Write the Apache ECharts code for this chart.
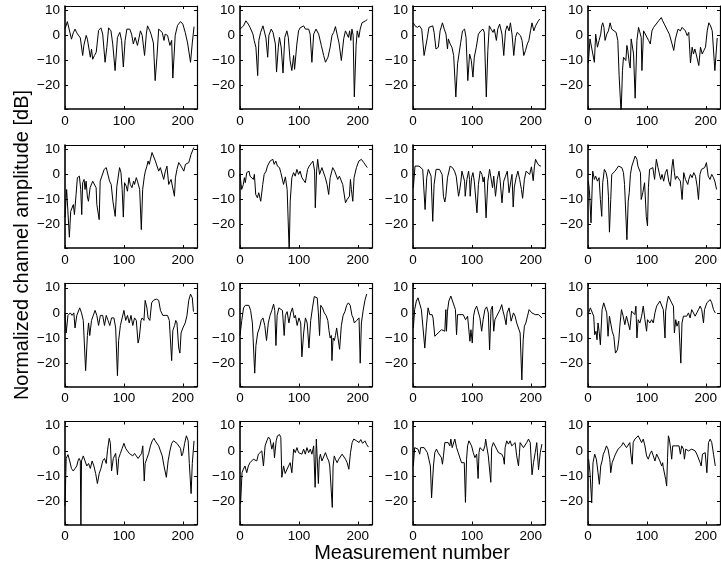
<!DOCTYPE html>
<html><head><meta charset="utf-8">
<script src="https://cdn.jsdelivr.net/npm/echarts@6/dist/echarts.min.js"></script>
<style>html,body{margin:0;padding:0;background:#fff}#c{width:721px;height:574px}</style>
</head><body><div id="c"></div>
<script>
const xTitle = 'Measurement number';
const yTitle = 'Normalized channel amplitude [dB]';
const xMin = 0, xMax = 224, xStep = 100;
const yMin = -29.3, yMax = 11.7, yStep = 10;

const p11 = [[0,2.5],[4,5.5],[7,5],[11,-1.5],[14,1],[17,2.5],[20,1],[23,0.5],[26,-1],[30,-8],[32,-4],[36,0],[38,-1.5],[43,-8.7],[45,-5.5],[47,-9.5],[50,-8],[53,-6.7],[57,2],[61,3],[64,0.5],[68,-10.7],[71,-4.7],[74,3],[78,1.8],[81,-3.4],[85,-14],[89,-0.8],[93,1.2],[96,-2],[99,-12.6],[102,-2],[105,2.5],[110,2.5],[113,0.5],[116,-3.4],[119,-0.8],[123,-4],[128,1.8],[131,0],[135,-8],[138,0.5],[140,3.8],[144,1.8],[146,0.5],[150,-3],[153,-18],[156,-8.7],[159,2.5],[162,2.5],[165,1.2],[168,-2],[170,0.5],[174,0],[178,-4],[181,-2],[183,-17],[187,0],[191,4],[196,5.5],[200,4.5],[204,1.2],[208,-3],[213,-10.7],[216,-3],[219,3.5]];
const p12 = [[0,2.5],[3,1.8],[6,3.8],[10,5.8],[14,4.5],[17,3.2],[22,0.5],[24,-2],[27,-4.7],[30,-16],[32,-2],[35,1.2],[39,3.8],[41,3.2],[44,-1],[47,-8.7],[49,0],[53,2.5],[56,1.2],[60,-3.4],[62,-14.6],[65,-4.7],[67,-0.8],[70,-5],[73,-15],[76,-0.8],[79.5,1.8],[82,-0.8],[85,-10],[88,-14],[91,-8],[92.6,-13.5],[96.5,-3.4],[99.4,1.8],[102,3],[108,3.8],[111,2.5],[113.5,1.8],[116.5,2.5],[119,0.5],[122,-10.7],[125,0.5],[129,2.5],[133.5,0.5],[138,-4],[142,-8],[145,-10.7],[149.3,-8.7],[153,-4.7],[156,-0.1],[159,1.2],[162,3.5],[164.7,0.5],[168,-3],[172,-10],[176,-1.3],[179,1.8],[182,2.5],[184,-0.8],[186,1.8],[188,-2],[190,2.5],[192,0],[194,-24.5],[197,-4],[199,1.8],[201.6,-0.8],[204,2.5],[207,5],[210,5.5],[213,5.8],[216,6.3]];
const p13 = [[0.6,5],[3.4,3.8],[7.4,3.2],[10.8,3.8],[14.8,2.5],[18.8,-8],[22,-8.7],[24.4,-0.8],[27,3.2],[30,2.5],[33.5,3.8],[35.8,1.2],[39,-5.4],[43,-4.7],[46,1.8],[50,5],[53,2.5],[56,0.5],[58.5,-5.4],[60,-1.4],[63,-3.4],[66,-4.7],[69,-8],[72.7,-24.5],[75.6,-11.3],[78.4,-10.7],[81,-2.8],[84,1.8],[87.5,2.5],[90,-0.8],[93,-18],[96,-7.4],[99,-10],[101.7,-16.6],[104,-8.7],[107.4,-4.7],[111,0.5],[115,1.8],[118.8,2.5],[121,1.2],[124.4,-24.5],[127,-6],[129.5,3.8],[132.4,2.5],[135.8,1.2],[138,2.5],[141.5,-2],[143.8,2.5],[147,4.5],[149.4,4],[151,0.5],[154,-8],[157,1.8],[159.7,3.8],[163,1.8],[165.3,5],[168,0.5],[171,-8],[174,-0.8],[176.7,1.2],[179.5,1.8],[182.4,-0.1],[185,-2],[188,-8],[191,-6],[194,-3.4],[196.6,-2],[199.4,1.8],[202,5],[205,1.8],[208,3.8],[212,5.5],[215,6.5]];
const p14 = [[0.6,-11],[3.4,-1.4],[6.2,-2],[10.8,-10.7],[13,0.5],[16,-4.7],[18.8,-2],[21.6,0.5],[23.3,3.8],[25,5],[27,3.2],[29,-2],[31.8,0.5],[34.7,1.8],[37.5,5],[40.3,2.5],[44.3,1.8],[47.7,1.2],[50.6,-2],[52.8,-16],[56.2,-31],[58.5,-14],[60.2,-8.7],[64.2,-10],[66,-4],[67.6,-6],[70,-11],[71.6,-13],[73.3,-1.4],[75.6,-1.4],[77.3,-7.4],[80,-25],[83,-2],[85.8,3.2],[88.6,2.5],[90.3,-0.8],[91.5,-14],[94.3,1.8],[97,2.5],[102.8,-2],[105.7,-3.4],[108.5,1.8],[111.4,3.2],[114.2,3.8],[119.9,5.8],[124.4,7.1],[126.7,5.8],[129.5,4.5],[132.4,3.8],[135.2,1.8],[138,0.5],[142.6,-3.4],[145.5,-6],[148.3,-1.4],[152.8,2.5],[156.8,1.8],[159.7,3.2],[162.5,2.5],[165.3,1.8],[168.2,-0.1],[171,1.2],[173.9,-11],[176.7,-4.7],[179,-7.4],[181.3,-5.4],[183.5,-7.4],[188,-12],[190.9,-4.7],[193.8,-7.4],[196.6,-6],[199.4,-4.7],[202.3,1.8],[205,5],[208,3.8],[210.8,1.8],[215.3,-14],[219.3,-1]];
const p21 = [[0,-17],[2.8,-6],[7.4,-25],[9.7,-14.7],[12.5,-15.3],[14.2,-12],[16,-16],[18.8,-8],[21,-1.3],[24.4,-0.7],[26.7,-6],[28.4,-16],[30,-3.3],[32.4,-2],[34,-6],[35.8,-2.7],[38,-9],[39.8,-10.7],[42.6,-5.3],[47,-2.7],[50,-2.7],[52.8,-5.3],[54,-12],[58,-18],[59.7,-2.7],[62.5,-2],[66.5,2],[70,2.7],[72,2],[75.6,-2.7],[78.4,-4],[81.3,-10.7],[85.2,-16.7],[88,-4.7],[92.6,2.7],[95,0.7],[97,-6],[99,-17],[101,-3.3],[104,-4.7],[106,-6.7],[108.5,-1.3],[110.8,-4],[113.6,-5.3],[116.5,-2.7],[118,-4],[121,-1.3],[123,-2.7],[126.7,-6],[129.5,-22],[131.8,-6],[134.7,-0.7],[136.4,1.3],[139,3.3],[141,5.3],[143,4],[145,6],[147.7,8.7],[150.6,8],[153.4,5.3],[156,4.7],[159,1.3],[161.8,2.7],[164.7,2],[167.5,-2],[170,1],[173,3.3],[176,-4],[180,-2],[185.7,-8.7],[187.4,-1.3],[190,2],[193,4.7],[197,3.3],[201.6,1.3],[204.4,4],[207.3,3.3],[210,4.7],[214,8],[218.6,10.7]];
const p22 = [[0,0],[2.8,-6],[5.7,-4],[7.4,-1.3],[9,-3.3],[11.4,0.7],[13,0],[15.3,1.3],[17,-0.7],[20,0],[22.7,-2],[24.4,0],[26.7,-8],[29.5,-9.3],[31.8,-7.3],[35.2,-10.7],[38.6,-4],[41,0],[44.3,1.3],[46.6,3.3],[51,5.3],[55.7,6],[58,4],[60.8,5.3],[63.6,3.3],[67,2.7],[69.3,0.7],[73.9,-4],[77,-1],[80,-6],[83.5,-31],[85.2,-10.7],[88,-1.3],[90.9,0.7],[93.7,-0.7],[96.5,2],[99.4,0],[102,1.3],[105,-1.3],[108,-1.3],[110.8,-3.3],[114.7,2],[117.5,3.3],[120.4,2.7],[123.8,5.3],[126.6,1.3],[127.8,-13.3],[130,1.3],[131.8,6],[135,0],[139,2.7],[142,2.7],[144.8,-1.3],[147.7,-4],[150.5,-8],[153,-1.3],[157.3,2.7],[160.7,1.3],[163,1.3],[165.8,-2],[168.7,-0.7],[171.5,-1.3],[174.3,-4],[179,-11.3],[181.7,-10],[185.7,-8.7],[187.4,-2],[189,-6],[191.4,-10.7],[193.6,-1.3],[197.6,2.7],[201.6,5.3],[206,6],[210,4.7],[216,2.7]];
const p23 = [[0.6,-5.3],[3.4,3.3],[6.3,2.7],[10.2,3.3],[13,4],[16.5,2],[18.8,1.3],[20.5,-14],[23.3,-1.3],[26,2],[29,2.7],[30.7,-0.7],[33.5,-18.7],[35.8,-4],[39.2,2],[41.5,2.7],[44.9,2],[47,2.7],[49.4,0],[51.7,-8.7],[54,-11],[55.7,-8.7],[58.5,-1.3],[63,3.3],[67,2.7],[70.5,1.3],[73.3,-0.7],[77.3,-8.7],[79,-6.7],[81.3,-2.7],[83,1.3],[85.8,0.7],[87.5,-2.7],[88.6,-8.7],[91.5,-2],[94.3,1.3],[96,-2],[97,-8.7],[99.4,-1.3],[101.7,0.7],[104,-2.7],[108.5,-15.3],[111,-4],[114,1.3],[117,0],[119,-3],[121,-1],[124,-17.3],[127,-2.7],[130,2],[132,1.3],[135,-5.3],[137,-0.7],[140,-8.7],[143,-2],[146,1.3],[148,-2.7],[151,-11.3],[154,-2.7],[157,-0.7],[160,1.3],[163,-7.3],[166,-2.7],[168,0],[170,-13],[172,-5],[175,-1.3],[178,1.3],[181,-2],[184,-6],[186,-9.5],[189,-2],[192,1.3],[195,2],[198,0],[201,3],[204,-2.5],[206,3],[208,6],[211,4.5],[214,3.5],[217,3.3]];
const p24 = [[0.6,-2.7],[2.3,-6],[5.1,-19.3],[8,1.3],[10.8,-2],[13,-0.7],[16,-2.7],[18.8,-1.3],[21,-10],[23.3,-16.7],[25,-3.3],[27.8,2],[30.7,0.7],[33,-2],[34.7,-8.7],[36.4,-23],[38.6,-10],[40.3,0],[43.2,0.7],[46,1.3],[48.9,2],[51.7,3.3],[54.5,4],[57.4,2.7],[60.2,0.7],[62,-4],[66,-26],[68.2,-10.7],[70,-7.3],[72,0],[74.4,3.3],[77.3,3.3],[80,7.3],[83,6],[84.7,3.3],[87,4],[89,0.7],[90.3,-10],[93,-7.3],[96,-3.3],[98.9,-16.7],[101,-20.5],[102.5,-5.3],[104.5,2],[107.4,1.3],[110,2.7],[113,-2],[116,6],[118.8,2.7],[121.6,2],[123.3,-2],[125.6,0],[128.4,-2.7],[131.3,0.7],[134,2],[137,-2.7],[139.8,-4.7],[142.6,3.3],[144.3,6],[146.6,0.7],[148.3,-2],[151,-0.7],[154,0],[156.8,-2.7],[159.7,-10],[162.5,0.7],[165.3,-2],[169.3,-4],[171,-2],[173.9,0],[176.7,-1.3],[179.5,0.7],[182.4,-0.7],[185.2,-4.7],[187.5,-10],[190,0],[192.5,2],[195,2.7],[198,2.7],[201,4.7],[204,-0.7],[207,-2],[210,0],[213,-1.3],[215.5,-3],[218.2,-6]];
const p31 = [[0,0],[2,-8],[5,-1],[9,0],[12,-1],[15,0],[17,-6],[20,-1],[25,2],[28,0],[31,-3],[35,-23],[38,-9],[40,-4],[42,-9],[45,-3],[48,-1],[51,1],[54,-1],[57,-5],[60,-1],[64,-1],[67,-5],[70,-1],[73,-3],[76,-5],[79,-2],[83,-2],[86,-6],[89,-25],[91,-11],[94,-5],[97,-2],[100,1],[103,-3],[106,-1],[109,-4],[112,-1],[115,-5],[118,-2],[121,-3],[124,-12],[126,-10],[129,-3],[131,-2],[134,-3],[136,5],[139,2],[141,-2],[144,-3],[147,4],[150,5],[155,5.5],[159,5],[162,1],[166,-1],[170,-1],[174,-1],[177,-3],[181,-19],[183,-7],[186,-5],[188,-3],[190,-4],[193,-14],[195,-16],[197,-8],[200,-6],[204,-4],[207,-1],[210,5],[213,7.5],[216,6],[218,0.5]];
const p32 = [[0,-9],[3,-3],[6,2],[9,3],[12,2.5],[15,3],[18,1],[21,-4],[25,-24],[27,-13],[30,-8],[33,-6],[36,-3],[39,-2],[42,-5],[45,-11],[48,-4],[51,-1],[54,1],[57,3.5],[59,1],[61,-13],[63,-1],[66,2],[69,1.5],[72,1],[75,-9],[77,-1],[80,0.5],[83,-4],[86,0],[89,2],[92,-2],[94,-1],[97,-5],[100,-2],[103,-4],[105,-17.5],[108,-8],[111,-2],[114,-4],[117,-14],[120,-3],[123,2],[126,6.5],[129,7],[131,6],[133,0],[135,-9],[137,3],[140,2],[143,0],[146,-1],[149,-3],[151,-7],[153,-10],[155,-9],[156,-19],[158,-10],[160,-11],[162,-9],[164,-6],[166,-6],[169,-14.5],[172,-5],[175,-1],[178,0.5],[181,3],[184,4],[187,3],[190,-1],[192,-2],[194,-4],[198,-3],[202,-2],[204,-20],[206,-4],[209,1],[212,5],[215,7.5]];
const p33 = [[0.6,-6],[2.8,1.3],[5.7,4.7],[8.5,6],[11.4,5.3],[14.2,1.3],[17,-6],[20,-14],[22.7,-5.3],[25.6,2],[28.4,-0.7],[30,-1.3],[32.4,-0.7],[34,-2],[37,-9.3],[39.8,-8.7],[42.6,-8],[45.5,-7.3],[48.3,-6.7],[51,-7.3],[54,-7.3],[55.7,1.3],[56.8,-7.3],[58.5,0.7],[60.8,4.7],[64.2,6.7],[66.5,6.4],[70,2.7],[72,1.3],[73.9,-8.7],[75.6,-0.7],[79.5,-0.7],[82.4,-1.3],[85.2,-0.7],[89.2,-2.7],[92.6,-1.3],[96.6,-11.3],[98.3,-6.7],[100.6,-12],[102.8,-1.3],[105,1.3],[108,2.7],[110.8,2],[113.6,-2],[116.5,-7.3],[119,-2.7],[122,1.3],[125,2.4],[127.8,0],[130,-14.7],[132.4,1.3],[134.7,2.7],[137,-7.3],[139,-2.7],[142,-1.3],[145,-0.7],[147.7,1.3],[150.6,3.3],[152.8,0.7],[155,-1.3],[158,-4.7],[159.7,0],[163,2],[165.3,-1.3],[166.5,-3.3],[170.5,0],[173.3,-1.3],[176,-4],[181.8,-8],[184.7,-26.7],[187,-10.7],[189,-5.3],[191.5,-4],[194.3,-1.3],[197,1.3],[198.9,0.7],[201.7,0],[204.5,0.7],[207.4,-0.7],[210,0],[213,-0.7],[216,-1.3],[218.8,-2]];
const p34 = [[1.1,0],[4,2],[6.8,2.7],[9.7,-1.3],[11.4,-8.7],[13.6,-7.3],[15.3,-10.7],[17,-4],[18.8,-7.3],[21,-12.7],[23.9,1.3],[26.7,4],[29.5,3.3],[31.8,0],[34,-9.3],[36.4,-1.3],[38.6,-0.7],[41,-7.3],[43.8,-9.3],[46.6,-16],[48.3,-16.7],[50,-14.7],[52.3,-10.7],[54,-5.3],[56.8,1.3],[59.7,-1.3],[62.5,-4.7],[65.3,-1.3],[68.2,-0.7],[71,-6.7],[73.9,0.7],[76.7,1.3],[79.5,-0.7],[81.3,2.7],[83,-10],[85.2,-2.7],[88,-4],[91,-1.3],[93.8,2.7],[96.6,-2.7],[99.4,-7.3],[101,-2.7],[105,-4],[108,-2.7],[110.8,-4],[113.6,0],[116.5,2.7],[119.3,3.3],[122,4.7],[125,5.3],[127.8,1.3],[130.7,-10],[131.8,0.7],[134,4],[136.4,6.7],[139,6],[142,4],[145,2.7],[146.6,-8],[148.9,-2.7],[151,-5.3],[154,-3.3],[157.5,-20],[159.5,-4],[162,-1.3],[164.8,-0.7],[167.6,-1.3],[170.5,0],[173.3,-2],[176,1.3],[179,0],[181.8,-1.3],[184.7,0],[187.5,1.3],[190.3,2.7],[193,1.3],[196,-4],[197.7,1.3],[201.7,4],[207.4,5.3],[210,4],[213,1.3],[216,0]];
const p41 = [[0,-22],[2,-3],[5,-1.5],[8,-4],[11,-7],[14,-8],[17,-7],[20,-6],[22,-4],[24,-3],[26,-4],[27,-31],[28,-4],[31,-2],[34,-4],[37,-6],[40,-5],[43,-7],[46,-4],[49,-6],[52,-9],[55,-13],[58,-9],[61,-7],[64,-4],[67,-3],[70,-5],[72,0],[75,5],[77,3],[79,-8],[82,-3],[86,-1],[89,-9.5],[91,-3],[94,-1],[97,1],[100,3],[103,1],[106,0],[109,-1],[112,-1],[115,-2],[118,-1],[121,-2],[124,-3],[127,-2],[130,-1],[132,2],[134.5,-12],[136,-5],[139,-3],[142,-1],[145,2],[148,4],[151,5],[153,4],[156,4.5],[159,2],[162,0],[165,-2],[168,-6],[172,-10.5],[175,-4],[178,0],[181,3],[184,4],[187,3.5],[190,3],[193,3],[196,1],[198,-2],[200,-1],[203,3],[206,6],[209,4],[211,-5],[214,-17],[216,-5],[219,4]];
const p42 = [[1,-21],[3.4,-8.7],[5.7,-7.3],[8.5,-6],[11.4,-8.7],[14.2,-6],[17,-4.7],[19.9,-5.3],[22.7,-3.3],[25.6,-2.7],[28.4,-4],[31.3,-1.3],[34,-1.3],[37,0],[39.8,-6],[42.6,2],[45.5,4],[48.3,5.5],[51,4.7],[54,0.7],[56.8,3.3],[58.5,-2.7],[61.4,4],[63.6,6],[67,6.5],[69.3,5.3],[71,-10.5],[73.9,-6],[76.7,-9],[79.5,-8.7],[82.4,-6],[85.2,-4.7],[88,-8.7],[91,0.7],[93.8,-0.7],[96.6,1.3],[99.4,-0.7],[102.3,0],[105,-1.3],[108,0.7],[110.8,-1.3],[113.6,1.3],[116.5,-0.7],[119.3,0.7],[122,-1.3],[125,2],[127.5,-14.5],[129.5,4.7],[133,-13],[134.5,-3.3],[136.4,-1.3],[139,-4],[142,-4.7],[145,-0.7],[148,-2.7],[150.6,-4],[152.3,-6],[156.6,-22.5],[158,-6],[160,-2],[162,-3.3],[164.8,-4.7],[167.6,-3.3],[170.5,-4],[173.3,-1.3],[176,-0.7],[179,-3.3],[181.8,-4.7],[184.7,-7.3],[187.5,-0.7],[190.3,3.3],[193,4.7],[198,4],[202,3.3],[205,4.5],[208,3],[212,4],[215,2.5],[218,1.5]];
const p43 = [[0.6,-6],[2.8,1.3],[5.7,2],[8.5,0.7],[11.4,-1.3],[13,1.3],[16,0.7],[18.8,1.3],[21.6,0.7],[24.4,-0.7],[26.7,-1.3],[29.5,-6],[31.5,-18.7],[34.7,-6],[37,-0.7],[39.8,0.7],[42.6,-0.7],[45.5,-1.3],[48.3,-2.7],[50,-5.3],[51.7,-2],[54,3.3],[56.8,4],[59.7,3.3],[62.5,2],[64.2,4.7],[66.5,1.3],[68.2,2],[71,4.7],[73.9,1.3],[76.7,-0.7],[79.5,-1.3],[82.4,-4.7],[85.2,-5.3],[87,-4.7],[89,-20.5],[90.9,-3.3],[92.6,2],[94.9,4],[97,4.7],[99.4,2],[102.3,-0.7],[105,-2.7],[108,-1.3],[110.5,-11],[112,-0.7],[113.6,1.3],[116.5,2],[119.3,0],[122,2],[123.3,4.7],[125,2],[127.8,-2],[132,-12.5],[133.5,1.3],[134.7,2],[136.4,3.3],[139.2,2.7],[142,0.7],[145,-0.7],[147.7,0],[150.6,-1.3],[153.4,-2.7],[155,-5.3],[156.3,1.3],[159,4],[162,2.7],[164.8,4],[167.6,2],[170.5,1.3],[173.3,3.3],[176,-2],[179,-6],[180.7,-0.7],[181.8,3.3],[184.7,4],[187.5,1.3],[190.3,1.3],[193,3.3],[196,4.7],[198.9,3.3],[202,-9.5],[204.5,-4.7],[207.4,-0.7],[210,3.3],[213,-7.5],[216,-0.7],[218.8,2.7]];
const p44 = [[1.1,-3.3],[3.4,-8.7],[6.3,-20.7],[8.5,-4.7],[11.4,-1.3],[14.2,-3.3],[17,-8.7],[19.3,-13.3],[21.6,-6],[23.9,-4],[26,-1.3],[28.4,0],[31.3,2],[34,0.7],[37,-3.3],[38.6,-8.7],[41,-4.7],[44.3,-2.7],[46.6,-1.3],[48.9,-0.7],[51,0.7],[54,1.3],[56.8,2],[59.7,3.3],[62.5,2.7],[65.3,1.3],[68.2,2],[71,3.3],[72.7,-1.3],[75,-5.3],[76.7,3.3],[79.5,4.7],[82.4,4],[85.2,6],[88,5.3],[91,3.3],[93.8,4.7],[96.6,2],[99.4,-2],[102.3,-3.3],[105,-1.3],[108,0],[110.8,-2],[113.6,-4],[116.5,-1.3],[119.3,-2],[122,-4],[125,-6],[126.7,-4.7],[127.8,-6.7],[130.7,-7.3],[131.8,-11.3],[133.5,-14],[135,-2.7],[136.4,6],[138,4.7],[140.3,0.7],[142,-3.3],[143.8,2],[146,2.7],[149,2],[151.7,1.3],[154.5,2],[156.8,-1.3],[159,2],[162,0.7],[163.6,-3.3],[165.9,0.7],[168,1.3],[170.5,0],[173.3,0],[176,0.7],[179,0],[181.8,0],[184.7,-1.3],[187.5,-0.7],[190.3,-4.7],[192,-6],[194.3,-1.3],[196.6,-1.3],[198.9,-0.7],[201.7,-8.7],[204.5,3.3],[207.4,4.7],[210,3.3],[213,-1.3],[216,-6]];

const panels = [[p11,p12,p13,p14],[p21,p22,p23,p24],[p31,p32,p33,p34],[p41,p42,p43,p44]];

const chart = echarts.init(document.getElementById('c'), null, {renderer:'canvas'});
const lefts = [65, 240, 413, 588];
const tops = [6, 145, 283.5, 421.5];
const W = 132, H = 103;
const font = 'Liberation Sans, Arial, Helvetica, sans-serif';
const lbl = {color:'#000', fontSize:13.5, fontFamily:font};
const fmtX = v => (Math.abs(v % xStep) < 1e-6 ? String(v) : '');
const fmtY = v => (Math.abs(Math.round(v) - v) < 1e-6 && Math.round(v) % yStep === 0) ? (v < 0 ? '\u2212' + Math.abs(v) : String(v)) : '';
const grid = [], xAxis = [], yAxis = [], series = [];
let gi = 0;
for (let r = 0; r < 4; r++) {
  for (let c = 0; c < 4; c++) {
    grid.push({left: lefts[c], top: tops[r], width: W, height: H, containLabel:false});
    const line = w => ({show:true, onZero:false, lineStyle:{color:'#000', width:w}});
    xAxis.push({type:'value', gridIndex:gi, position:'bottom', min:xMin, max:xMax, interval:xStep,
      axisLine: line(1.6), axisTick:{inside:true, length:3, lineStyle:{color:'#000'}},
      axisLabel:Object.assign({margin:5, formatter:fmtX, showMaxLabel:false}, lbl), splitLine:{show:false}});
    xAxis.push({type:'value', gridIndex:gi, position:'top', min:xMin, max:xMax, interval:xStep,
      axisLine: line(1.2), axisTick:{inside:true, length:3, lineStyle:{color:'#000'}},
      axisLabel:{show:false}, splitLine:{show:false}});
    yAxis.push({type:'value', gridIndex:gi, position:'left', min:yMin, max:yMax, splitNumber:4,
      axisLine: line(1.6), axisTick:{inside:true, length:3, lineStyle:{color:'#000'}},
      axisLabel:Object.assign({margin:5, formatter:fmtY}, lbl), splitLine:{show:false}});
    yAxis.push({type:'value', gridIndex:gi, position:'right', min:yMin, max:yMax, splitNumber:4,
      axisLine: line(1.2), axisTick:{inside:true, length:3, lineStyle:{color:'#000'}},
      axisLabel:{show:false}, splitLine:{show:false}});
    series.push({type:'line', xAxisIndex:2*gi, yAxisIndex:2*gi, data:panels[r][c], showSymbol:false,
      symbol:'none', clip:true, lineStyle:{color:'#000', width:1}, silent:true});
    gi++;
  }
}
chart.setOption({
  animation:false,
  backgroundColor:'#fff',
  grid, xAxis, yAxis, series,
  graphic:[
    {type:'text', x:412, y:553, style:{text:xTitle, fill:'#000', font:'20px ' + font, textAlign:'center', textVerticalAlign:'middle'}},
    {type:'text', x:22, y:245, rotation:Math.PI/2, style:{text:yTitle, fill:'#000', font:'20px ' + font, textAlign:'center', textVerticalAlign:'middle'}}
  ]
});
</script></body></html>
